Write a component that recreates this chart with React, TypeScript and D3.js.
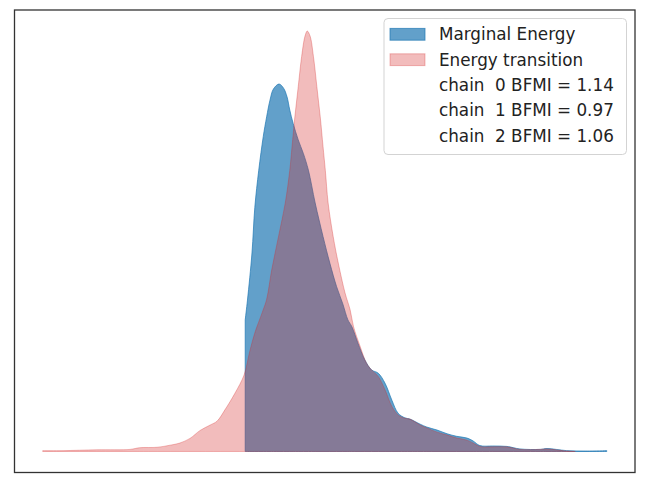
import React from "react";
import * as d3 from "d3";

// Energy values (arbitrary units) and normalized densities
const transitionX = [0, 3.6, 9.6, 15.5, 17.2, 20.3, 22.6, 24.3, 26.1, 27.9, 29.7, 30.9, 32.3, 34.1, 35.7, 36.7, 37.6, 38.9, 39.7, 40.6, 41.8, 43.0, 43.8, 44.2, 44.7, 45.3, 45.9, 46.5, 46.9, 47.4, 48.0, 48.6, 49.2, 49.7, 50.1, 50.6, 51.5, 52.4, 53.6, 54.5, 55.1, 56.3, 57.4, 58.3, 59.5, 60.7, 61.9, 63.0, 64.2, 65.1, 66.9, 68.1, 69.9, 71.7, 73.4, 75.2, 76.3, 77.5, 79.8, 82.3, 84.6, 88.2, 89.4, 92.9, 94.4];
const transitionY = [0.002, 0.002, 0.004, 0.005, 0.009, 0.010, 0.015, 0.020, 0.031, 0.050, 0.063, 0.072, 0.099, 0.139, 0.182, 0.238, 0.282, 0.330, 0.362, 0.432, 0.511, 0.591, 0.669, 0.725, 0.796, 0.868, 0.939, 0.988, 1.000, 0.988, 0.939, 0.868, 0.796, 0.725, 0.669, 0.591, 0.511, 0.448, 0.377, 0.337, 0.297, 0.249, 0.210, 0.194, 0.178, 0.146, 0.107, 0.087, 0.079, 0.077, 0.063, 0.056, 0.046, 0.039, 0.032, 0.027, 0.020, 0.012, 0.011, 0.011, 0.005, 0.005, 0.006, 0.001, 0.000];

const marginalX = [35.9, 36.3, 37.1, 37.6, 38.3, 39.1, 39.7, 40.3, 40.9, 41.9, 42.7, 43.3, 43.8, 44.4, 45.3, 46.2, 47.1, 48.3, 49.7, 50.9, 52.1, 53.2, 54.1, 54.8, 55.9, 57.1, 58.3, 59.5, 60.7, 61.9, 63.0, 64.2, 65.1, 66.9, 68.1, 69.9, 71.7, 73.4, 75.2, 76.3, 77.5, 79.8, 82.3, 84.6, 88.2, 89.4, 92.9, 96.5, 100.0];
const marginalY = [0.313, 0.360, 0.472, 0.580, 0.669, 0.749, 0.796, 0.836, 0.862, 0.874, 0.864, 0.844, 0.812, 0.780, 0.741, 0.709, 0.669, 0.591, 0.511, 0.448, 0.392, 0.351, 0.313, 0.297, 0.257, 0.218, 0.194, 0.186, 0.162, 0.122, 0.091, 0.080, 0.077, 0.065, 0.058, 0.051, 0.042, 0.036, 0.032, 0.025, 0.014, 0.013, 0.012, 0.006, 0.005, 0.007, 0.002, 0.001, 0.002];

const legendLabels = ["Marginal Energy", "Energy transition"];
const chainIds = [0, 1, 2];
const bfmiValues = [1.14, 0.97, 1.06];

const W = 652;
const H = 487;
const plot = { left: 14.5, right: 635, top: 10, bottom: 472.5 };

const BLUE = "#1f77b4";
const RED = "#d62728";
const BLUE_A = 0.7;
const RED_A = 0.31;

export default function App() {
  const xs = d3.scaleLinear().domain([-5, 105]).range([plot.left, plot.right]);
  const ys = d3.scaleLinear().domain([-0.05, 1.05]).range([plot.bottom, plot.top]);

  const area = d3
    .area<[number, number]>()
    .x((d) => xs(d[0]))
    .y0(ys(0))
    .y1((d) => ys(d[1]))
    .curve(d3.curveCatmullRom.alpha(0.5));

  const marg = marginalX.map((x, i) => [x, marginalY[i]] as [number, number]);
  const trans = transitionX.map((x, i) => [x, transitionY[i]] as [number, number]);

  const fontSize = 16.8;
  const lx = 384;
  const ly = 18.5;
  const lw = 242.5;
  const lh = 136;
  const base0 = 40.2;
  const step = 25.4;
  const textX = 439;

  const legendRows = [
    ...legendLabels.map((t, i) => ({ text: t, color: i === 0 ? BLUE : RED, alpha: i === 0 ? BLUE_A : RED_A })),
    ...chainIds.map((c, i) => ({ text: `chain  ${c} BFMI = ${bfmiValues[i].toFixed(2)}`, color: null as string | null, alpha: 0 })),
  ];

  return (
    <svg
      width={W}
      height={H}
      style={{ position: "absolute", left: 0, top: 0, background: "#fff" }}
      fontFamily="DejaVu Sans, Verdana, sans-serif"
    >
      <rect x={0} y={0} width={W} height={H} fill="#fff" />
      <path d={area(marg) || ""} fill={BLUE} fillOpacity={BLUE_A} stroke={BLUE} strokeOpacity={BLUE_A} strokeWidth={1} />
      <path d={area(trans) || ""} fill={RED} fillOpacity={RED_A} stroke={RED} strokeOpacity={RED_A} strokeWidth={1} />
      <rect
        x={plot.left}
        y={plot.top}
        width={plot.right - plot.left}
        height={plot.bottom - plot.top}
        fill="none"
        stroke="#333"
        strokeWidth={1.3}
      />
      <g>
        <rect x={lx} y={ly} width={lw} height={lh} rx={4} ry={4} fill="#fff" fillOpacity={0.8} stroke="#d3d3d3" strokeWidth={1} />
        {legendRows.map((r, i) => {
          const base = base0 + i * step;
          return (
            <g key={i}>
              {r.color && (
                <rect
                  x={390}
                  y={base - 11.8}
                  width={35}
                  height={11.8}
                  fill={r.color}
                  fillOpacity={r.alpha}
                  stroke={r.color}
                  strokeOpacity={r.alpha}
                  strokeWidth={1}
                />
              )}
              <text x={textX} y={base} fontSize={fontSize} fill="#222" style={{ whiteSpace: "pre" }}>
                {r.text}
              </text>
            </g>
          );
        })}
      </g>
    </svg>
  );
}
